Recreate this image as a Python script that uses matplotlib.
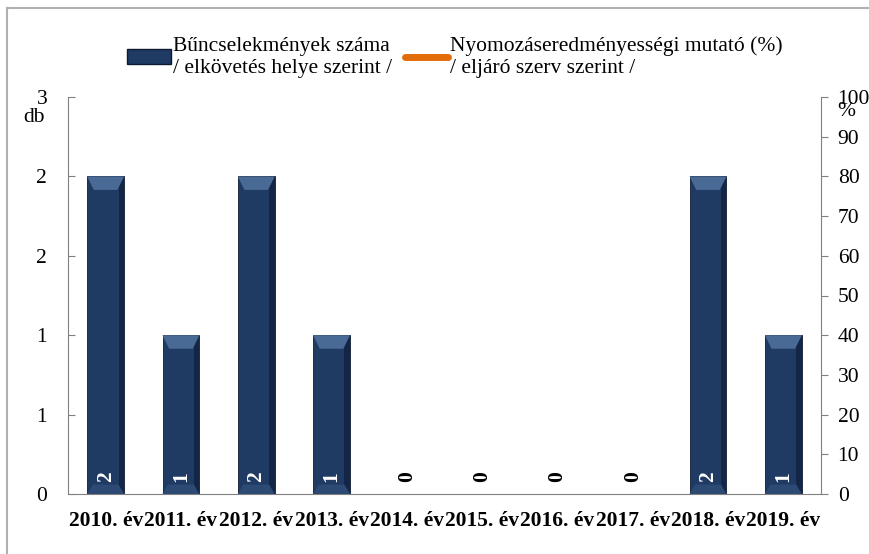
import numpy as np
import matplotlib
matplotlib.use("Agg")
import matplotlib.pyplot as plt
from matplotlib.patches import Polygon
from matplotlib.lines import Line2D
from matplotlib.patches import Patch

plt.rcParams['font.family'] = ['Liberation Serif', 'DejaVu Serif']

years = ["2010. év", "2011. év", "2012. év", "2013. év", "2014. év",
         "2015. év", "2016. év", "2017. év", "2018. év", "2019. év"]
crimes = [2, 1, 2, 1, 0, 0, 0, 0, 2, 1]          # db
rate = [None, None, None, None, None, None, None, None, None, None]  # %, no data shown

navy = "#1f3a63"
orange = "#e36c0a"
fs = 15.5

fig = plt.figure(figsize=(8.7, 5.54), dpi=100)
ax = fig.add_axes([68/870, 1-494/554, (821-68)/870, (494-97)/554])
ax2 = ax.twinx()

x = np.arange(len(years))
bars = ax.bar(x, crimes, width=0.49, color=navy, edgecolor="#0d1a30", linewidth=0.6, zorder=2)

# bevel-like highlight on top and bottom of each bar
for b in bars:
    h = b.get_height()
    if h <= 0:
        continue
    x0, w = b.get_x(), b.get_width()
    d = 0.085
    top = Polygon([(x0, h), (x0 + w, h), (x0 + w*0.82, h - d), (x0 + w*0.18, h - d)],
                  closed=True, facecolor="#4a6a96", edgecolor="none", zorder=3)
    bot = Polygon([(x0, 0), (x0 + w, 0), (x0 + w*0.85, d*0.7), (x0 + w*0.15, d*0.7)],
                  closed=True, facecolor="#2c4a74", edgecolor="none", zorder=3)
    side = Polygon([(x0 + w*0.85, 0), (x0 + w, 0), (x0 + w, h), (x0 + w*0.85, h)],
                   closed=True, facecolor="#10223f", edgecolor="none", zorder=2.5, alpha=0.8)
    ax.add_patch(side)
    ax.add_patch(top)
    ax.add_patch(bot)

for xi, v in zip(x, crimes):
    ax.text(xi, 0.107, str(v), rotation=90, ha="center", va="center",
            fontsize=fs, fontweight="bold", color="white" if v > 0 else "black", zorder=4)

rate_vals = [np.nan if r is None else r for r in rate]
ax2.plot(x, rate_vals, color=orange, linewidth=4)

ax.set_xlim(-0.5, len(years) - 0.5)
ax.set_ylim(0, 2.5)
ax.set_yticks(np.arange(0, 2.51, 0.5))
ax.set_yticklabels([str(int(np.floor(v + 0.5))) for v in np.arange(0, 2.51, 0.5)])
ax2.set_ylim(0, 100)
ax2.set_yticks(np.arange(0, 101, 10))

ax.set_xticks(x)
ax.set_xticklabels(years, fontsize=fs, fontweight="bold")
ax.tick_params(axis="x", length=0, pad=12)
ax.tick_params(axis="y", direction="in", length=5, color="#808080", labelsize=fs, pad=15)
ax2.tick_params(axis="y", direction="out", length=5, color="#808080", labelsize=fs, pad=7)

for a in (ax, ax2):
    a.spines["top"].set_visible(False)
for s in ("left", "right", "bottom"):
    ax2.spines[s].set_color("#808080")
    ax.spines[s].set_color("#808080")
ax.spines["right"].set_visible(False)
ax2.spines["left"].set_visible(False)
ax2.spines["bottom"].set_visible(False)

fig.text(34/870, 1-118/554, "db", fontsize=fs, ha="center", va="center")
fig.text(846/870, 1-112/554, "%", fontsize=fs, ha="center", va="center")

handles = [Patch(facecolor=navy, edgecolor="#0d1a30"),
           Line2D([], [], color=orange, linewidth=5, solid_capstyle="round")]
labels = ["Bűncselekmények száma\n/ elkövetés helye szerint /",
          "Nyomozáseredményességi mutató (%)\n/ eljáró szerv szerint /"]
fig.legend(handles, labels, loc="upper center", bbox_to_anchor=(455/870, 1-28/554),
           ncol=2, frameon=False, fontsize=fs, handlelength=2.0, handletextpad=0.1,
           columnspacing=0.6, borderaxespad=0, labelspacing=0.2)

# outer chart border (left and top visible)
fig.add_artist(Line2D([7.5/870, 7.5/870], [0, 1-8/554], color="#b0b0b0", linewidth=1.5))
fig.add_artist(Line2D([7.5/870, 1], [1-8/554, 1-8/554], color="#b0b0b0", linewidth=1.5))

fig.savefig("out.png", dpi=100)
